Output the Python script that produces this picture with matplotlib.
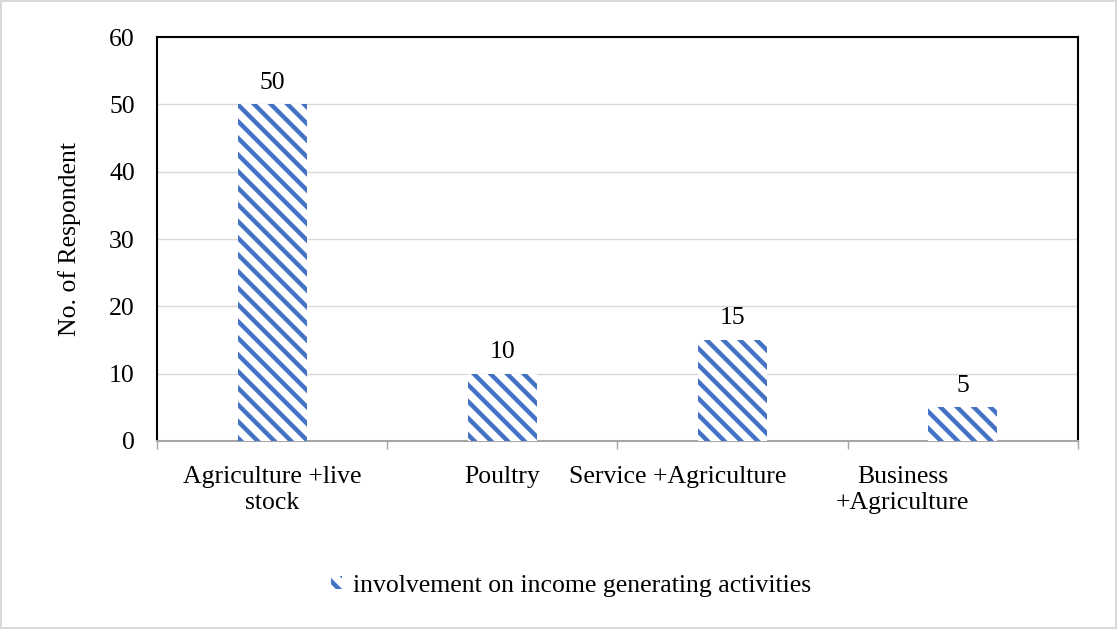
import matplotlib.pyplot as plt
import matplotlib.transforms as mtransforms
import numpy as np

categories = ['Agriculture +live\nstock', 'Poultry', 'Service +Agriculture', 'Business\n+Agriculture']
respondents = [50, 10, 15, 5]
label_shift_px = [0, 0, -55, -60]
series_name = 'involvement on income generating activities'
yticks = [0, 10, 20, 30, 40, 50, 60]

plt.rcParams['font.family'] = ['Liberation Serif', 'DejaVu Serif']
plt.rcParams['font.size'] = 18.5
plt.rcParams['hatch.linewidth'] = 3.2

blue = '#4472C4'

fig = plt.figure(figsize=(11.17, 6.29), dpi=100)
fig.patch.set_edgecolor('#d9d9d9')
fig.patch.set_linewidth(1.5)
ax = fig.add_axes([0.1406, 0.299, 0.8244, 0.642])

x = np.arange(len(categories))
bars = ax.bar(x, respondents, width=0.3, color='white', edgecolor=blue,
              linewidth=0, hatch='\\\\', label=series_name, zorder=3)

for xi, v in zip(x, respondents):
    ax.text(xi, v + 1.6, str(v), ha='center', va='bottom')

ax.set_xlim(-0.5, len(categories) - 0.5)
ax.set_ylim(0, 60)
ax.set_yticks(yticks)
ax.grid(axis='y', color='#d9d9d9', linewidth=1, zorder=0)
ax.set_ylabel('No. of Respondent', labelpad=20)

# category ticks sit on the boundaries, labels in the middle
ax.set_xticks(np.arange(len(categories) + 1) - 0.5)
ax.set_xticklabels([])
ax.set_xticks(x, minor=True)
ax.set_xticklabels(categories, minor=True, linespacing=1.25)
ax.tick_params(axis='x', which='major', length=6, color='#a6a6a6', width=1)
ax.tick_params(axis='x', which='minor', length=0, pad=18)
ax.tick_params(axis='y', length=0, pad=16)
for lab, dx in zip(ax.get_xticklabels(minor=True), label_shift_px):
    lab.set_transform(lab.get_transform() +
                      mtransforms.ScaledTranslation(dx / 100, 0, fig.dpi_scale_trans))

for side in ['left', 'top', 'right']:
    ax.spines[side].set_color('black')
    ax.spines[side].set_linewidth(1.5)
ax.spines['bottom'].set_color('#a6a6a6')
ax.spines['bottom'].set_linewidth(1.5)

fig.legend(handles=[bars], labels=[series_name], loc='center',
           bbox_to_anchor=(0.511, 0.069), frameon=False,
           handlelength=0.45, handleheight=0.45, handletextpad=0.4)

fig.savefig('out.png', dpi=100)
